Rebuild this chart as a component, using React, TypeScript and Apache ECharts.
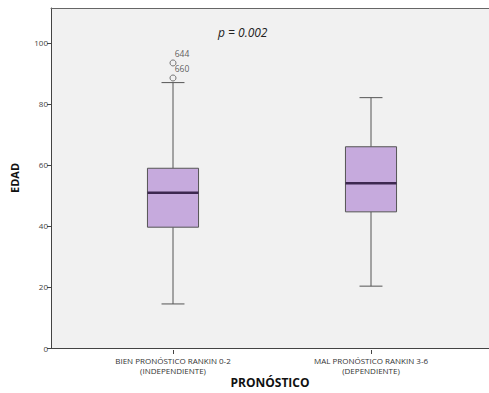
import React, { useEffect, useRef } from "react";
import * as echarts from "echarts";

const categories = [
  "BIEN PRONÓSTICO RANKIN 0-2\n(INDEPENDIENTE)",
  "MAL PRONÓSTICO RANKIN 3-6\n(DEPENDIENTE)",
];
// [min, Q1, median, Q3, max]
const boxStats = [
  [15, 40, 51.2, 59.2, 87.1],
  [20.8, 45, 54.3, 66.2, 82.2],
];
const outlierValues = [93.5, 88.6];
const outlierIds = ["644", "660"];
const outlierCategory = [0, 0];
const yTicks = { min: 0, max: 111.4, interval: 20 };
const pValueText = "p = 0.002";

export default function App() {
  const ref = useRef<HTMLDivElement>(null);
  useEffect(() => {
    if (!ref.current) return;
    const chart = echarts.init(ref.current, undefined, { renderer: "svg" });
    const font = "'Open Sans', 'DejaVu Sans', sans-serif";
    const boxData = boxStats.map((s, i) => [i, ...s]);
    const outData = outlierValues.map((v, i) => ({
      value: [outlierCategory[i], v],
      label: { formatter: outlierIds[i] },
    }));
    chart.setOption({
      animation: false,
      textStyle: { fontFamily: font },
      grid: [
        { left: 51, right: 0, top: 8, bottom: 43, show: true, backgroundColor: "#f1f1f1", borderWidth: 0 },
        { left: 74, right: 19, top: 8, bottom: 43 },
      ],
      xAxis: [
        {
          gridIndex: 0, type: "value", min: 0, max: 1, position: "bottom",
          axisLine: { show: true, lineStyle: { color: "#444", width: 1 } },
          axisTick: { show: false }, axisLabel: { show: false }, splitLine: { show: false },
          name: "PRONÓSTICO", nameLocation: "middle", nameGap: 28,
          nameTextStyle: { fontWeight: "bold", fontSize: 12, color: "#111", fontFamily: font },
        },
        {
          gridIndex: 0, type: "value", min: 0, max: 1, position: "top",
          axisLine: { show: true, lineStyle: { color: "#666", width: 1 } },
          axisTick: { show: false }, axisLabel: { show: false }, splitLine: { show: false },
        },
        {
          gridIndex: 1, type: "category", data: categories,
          axisLine: { show: false },
          axisTick: { show: true, alignWithLabel: true, length: 4, lineStyle: { color: "#444" } },
          axisLabel: { interval: 0, fontSize: 8, color: "#333", lineHeight: 10, margin: 5, fontFamily: font },
        },
      ],
      yAxis: [
        {
          gridIndex: 0, type: "value", min: yTicks.min, max: yTicks.max, interval: yTicks.interval,
          axisLine: { show: true, lineStyle: { color: "#444", width: 1 } },
          axisTick: { show: true, length: 4, lineStyle: { color: "#444" } },
          axisLabel: { fontSize: 8, color: "#444", margin: 3, showMaxLabel: false, fontFamily: font },
          splitLine: { show: false },
          name: "EDAD", nameLocation: "middle", nameGap: 31,
          nameTextStyle: { fontWeight: "bold", fontSize: 11, color: "#111", fontFamily: font },
        },
        {
          gridIndex: 1, type: "value", min: yTicks.min, max: yTicks.max, interval: yTicks.interval,
          show: false,
        },
      ],
      graphic: [
        {
          type: "text", left: 218, top: 26,
          style: { text: pValueText, font: `italic 12px ${font}`, fill: "#222" },
        },
      ],
      series: [
        {
          type: "custom",
          xAxisIndex: 2, yAxisIndex: 1,
          data: boxData,
          encode: { x: 0, y: [1, 2, 3, 4, 5] },
          renderItem: (params: any, api: any) => {
            const c = api.value(0);
            const pMin = api.coord([c, api.value(1)]);
            const pQ1 = api.coord([c, api.value(2)]);
            const pMed = api.coord([c, api.value(3)]);
            const pQ3 = api.coord([c, api.value(4)]);
            const pMax = api.coord([c, api.value(5)]);
            const band = api.size([1, 0])[0];
            const hb = band * 0.129;
            const hc = band * 0.058;
            const x = pMin[0];
            const stroke = { stroke: "#555", lineWidth: 1 };
            return {
              type: "group",
              children: [
                { type: "line", shape: { x1: x, y1: pMax[1], x2: x, y2: pQ3[1] }, style: stroke },
                { type: "line", shape: { x1: x, y1: pMin[1], x2: x, y2: pQ1[1] }, style: stroke },
                { type: "line", shape: { x1: x - hc, y1: pMax[1], x2: x + hc, y2: pMax[1] }, style: stroke },
                { type: "line", shape: { x1: x - hc, y1: pMin[1], x2: x + hc, y2: pMin[1] }, style: stroke },
                {
                  type: "rect",
                  shape: { x: x - hb, y: pQ3[1], width: hb * 2, height: pQ1[1] - pQ3[1] },
                  style: { fill: "#c6aadd", stroke: "#555", lineWidth: 1 },
                },
                {
                  type: "line",
                  shape: { x1: x - hb, y1: pMed[1], x2: x + hb, y2: pMed[1] },
                  style: { stroke: "#3d2850", lineWidth: 2.5 },
                },
              ],
            };
          },
        },
        {
          type: "scatter",
          xAxisIndex: 2, yAxisIndex: 1,
          data: outData,
          symbol: "circle", symbolSize: 6,
          itemStyle: { color: "#f1f1f1", borderColor: "#555", borderWidth: 1 },
          label: {
            show: true, position: "inside", offset: [9, -9],
            fontSize: 8.5, color: "#333", fontFamily: font,
          },
        },
      ],
    });
    return () => chart.dispose();
  }, []);
  return (
    <div
      ref={ref}
      style={{ position: "fixed", left: 0, top: 0, width: 489, height: 393, background: "#fff" }}
    />
  );
}
